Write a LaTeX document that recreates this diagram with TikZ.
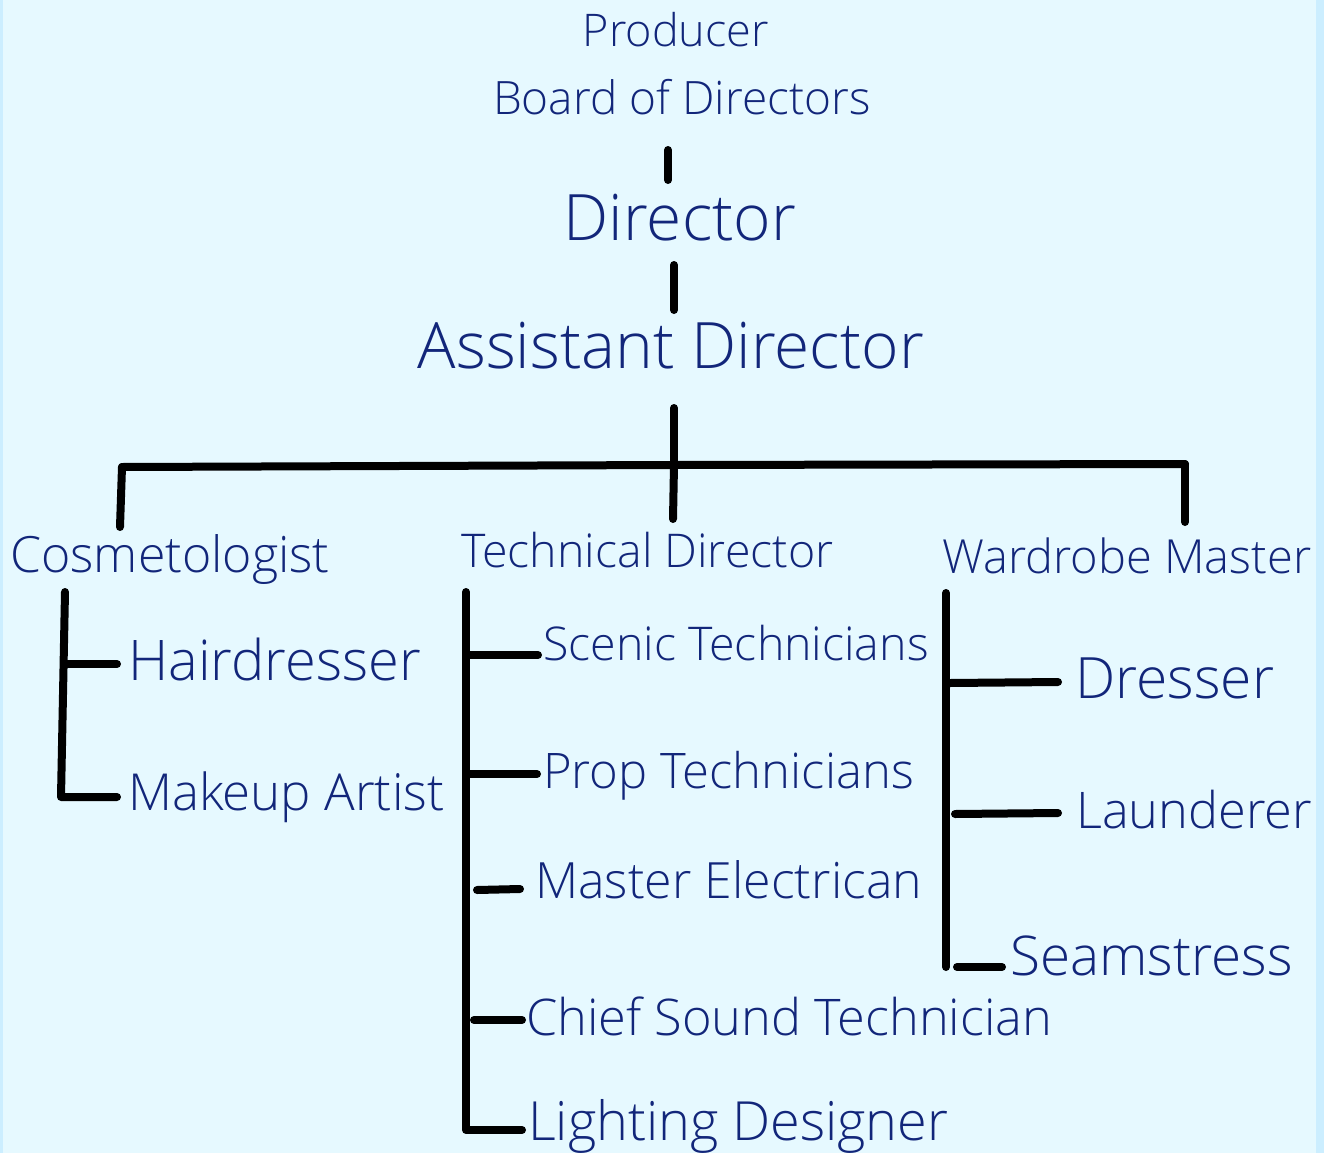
\documentclass[tikz,border=0pt]{standalone}
\usepackage{fontspec}
\setmainfont{Open Sans}[UprightFont={* Light}]
\definecolor{paper}{RGB}{230,249,255}
\definecolor{edge}{RGB}{204,238,255}
\definecolor{ink}{RGB}{18,38,122}
\newcommand\fsz[1]{\fontsize{#1}{#1}\selectfont}
\tikzset{
  lbl/.style={anchor=base west, inner sep=0pt, text=ink},
  ctr/.style={anchor=base, inner sep=0pt, text=ink},
  link/.style={line width=8pt, line cap=round, line join=round, black},
}
\begin{document}
\begin{tikzpicture}[x=1pt,y=-1pt]
% page and its edge strips
\fill[paper] (0,0) rectangle (1324,1153);
\fill[edge] (0,0) rectangle (3,1153);
\fill[edge] (1316,0) rectangle (1324,1153);
\useasboundingbox (0,0) rectangle (1324,1153);

% top of the chain
\node[ctr, font=\fsz{45}] (prod) at (676,47) {Producer};
\node[ctr, font=\fsz{46}] (board) at (682,114) {Board of Directors};
\node[ctr, font=\fsz{64}] (dir) at (680,240) {Director};
\node[ctr, font=\fsz{64}] (asst) at (671,368) {Assistant Director};

% department heads
\node[lbl, font=\fsz{50}] (cosm) at (10,572) {Cosmetologist};
\node[lbl, font=\fsz{46.5}] (tech) at (461,567) {Technical Director};
\node[lbl, font=\fsz{47}] (ward) at (942,573) {Wardrobe Master};

% cosmetology
\node[lbl, font=\fsz{56}] (hair) at (128,680) {Hairdresser};
\node[lbl, font=\fsz{51}] (make) at (128,810) {Makeup Artist};

% technical crew
\node[lbl, font=\fsz{46.5}] (scen) at (543,660) {Scenic Technicians};
\node[lbl, font=\fsz{49}] (prop) at (543,788) {Prop Technicians};
\node[lbl, font=\fsz{50}] (elec) at (535,898) {Master Electrican};
\node[lbl, font=\fsz{50.5}] (sound) at (526,1035) {Chief Sound Technician};
\node[lbl, font=\fsz{54}] (light) at (528,1140) {Lighting Designer};

% wardrobe crew
\node[lbl, font=\fsz{57}] (dress) at (1075,698) {Dresser};
\node[lbl, font=\fsz{50.5}] (laund) at (1076,828) {Launderer};
\node[lbl, font=\fsz{54.8}] (seam) at (1010,975) {Seamstress};

% joints of the connectors
\coordinate (s1a) at (668,150); \coordinate (s1b) at (668,180);
\coordinate (s2a) at (674,265); \coordinate (s2b) at (674,310);
\coordinate (s3a) at (674,408); \coordinate (hub) at (674,465);
\coordinate (barL) at (122,467); \coordinate (barR) at (1185,464);
\coordinate (dropL) at (120,527); \coordinate (dropM) at (673,519);
\coordinate (dropR) at (1185,522);

\coordinate (cTop) at (65,592); \coordinate (cBot) at (61,797);
\coordinate (cHair) at (65,664); \coordinate (cHairE) at (117,664);
\coordinate (cMakeE) at (117,797);

\coordinate (tTop) at (466,592); \coordinate (tBot) at (466,1130);
\coordinate (tScen) at (470,655); \coordinate (tScenE) at (538,655);
\coordinate (tProp) at (470,774); \coordinate (tPropE) at (537,774);
\coordinate (tElec) at (477,890); \coordinate (tElecE) at (520,889);
\coordinate (tSound) at (474,1020); \coordinate (tSoundE) at (522,1020);
\coordinate (tLightE) at (522,1130);

\coordinate (wTop) at (946,593); \coordinate (wBot) at (946,967);
\coordinate (wDress) at (950,683); \coordinate (wDressE) at (1058,682);
\coordinate (wLaund) at (955,814); \coordinate (wLaundE) at (1058,813);
\coordinate (wSeam) at (957,967); \coordinate (wSeamE) at (1002,967);

% chain of command
\draw[link] (s1a) -- (s1b);
\draw[link] (s2a) -- (s2b);
\draw[link] (s3a) -- (hub);
\draw[link] (barL) -- (hub) -- (barR);
\draw[link] (barL) -- (dropL);
\draw[link] (hub) -- (dropM);
\draw[link] (barR) -- (dropR);

% cosmetology bracket
\draw[link] (cTop) -- (cBot) -- (cMakeE);
\draw[link] (cHair) -- (cHairE);

% technical bracket
\draw[link] (tTop) -- (tBot) -- (tLightE);
\draw[link] (tScen) -- (tScenE);
\draw[link] (tProp) -- (tPropE);
\draw[link] (tElec) -- (tElecE);
\draw[link] (tSound) -- (tSoundE);

% wardrobe bracket
\draw[link] (wTop) -- (wBot);
\draw[link] (wDress) -- (wDressE);
\draw[link] (wLaund) -- (wLaundE);
\draw[link] (wSeam) -- (wSeamE);
\end{tikzpicture}
\end{document}
